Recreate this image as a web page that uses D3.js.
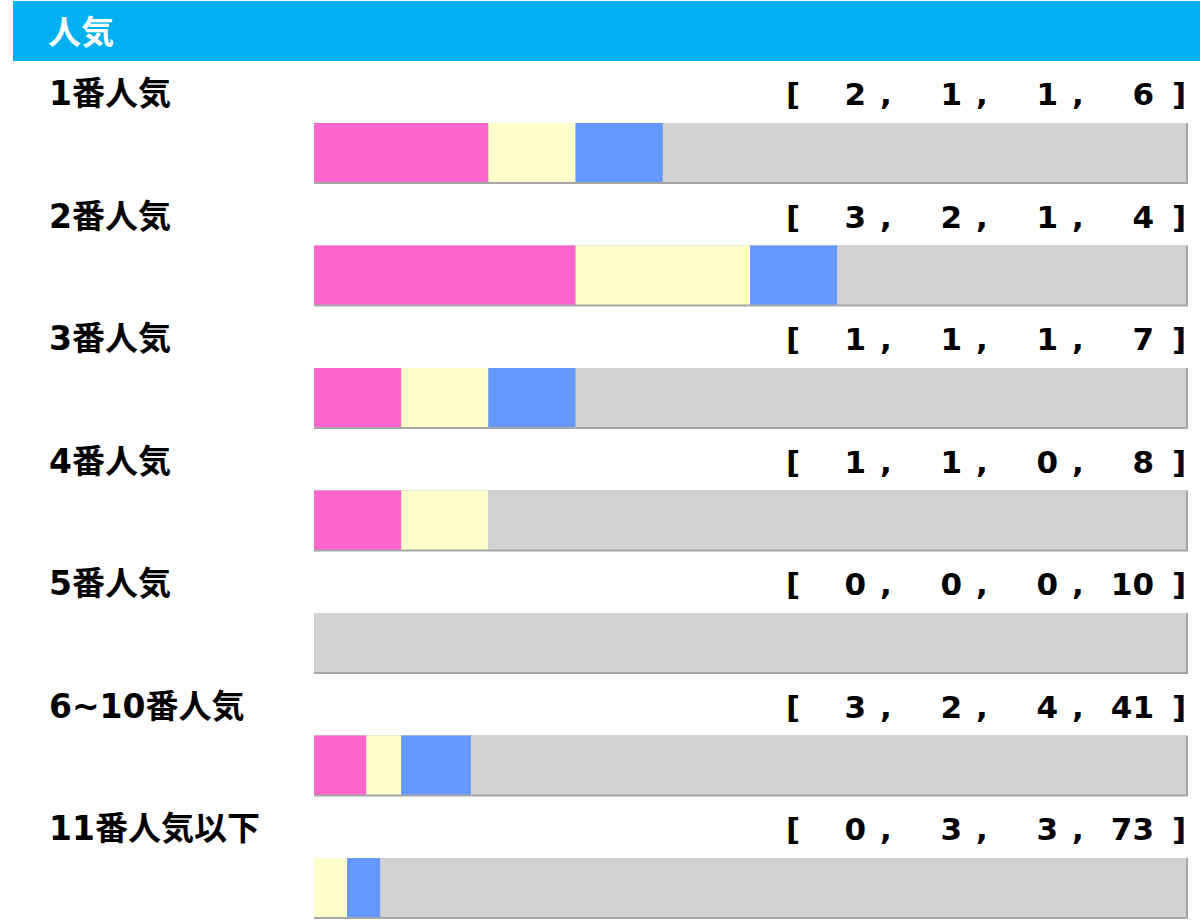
<!DOCTYPE html>
<html>
<head>
<meta charset="utf-8">
<script src="https://cdn.jsdelivr.net/npm/d3@7"></script>
<style>
  body { margin: 0; background: #fff; }
  svg text { font-family: "DejaVu Sans", "Noto Sans CJK JP", sans-serif; font-weight: bold; }
</style>
</head>
<body>
<div id="chart"></div>
<script>
// categories and counts [1着, 2着, 3着, 着外]
var labels = ['1番人気', '2番人気', '3番人気', '4番人気', '5番人気', '6~10番人気', '11番人気以下'];
var firsts = [2, 3, 1, 1, 0, 3, 0];
var seconds = [1, 2, 1, 1, 0, 2, 3];
var thirds = [1, 1, 1, 0, 0, 4, 3];
var others = [6, 4, 7, 8, 10, 41, 73];
var title = '人気';

var colors = ['#ff66cc', '#ffffcc', '#6699ff', '#d2d2d2'];
var keys = ['a', 'b', 'c', 'd'];

var width = 1200, height = 923;

var rows = labels.map(function(l, i) {
  return { label: l, a: firsts[i], b: seconds[i], c: thirds[i], d: others[i] };
});

var svg = d3.select('#chart').append('svg')
  .attr('width', width)
  .attr('height', height);

// header band
svg.append('rect')
  .attr('x', 13).attr('y', 1)
  .attr('width', width - 13).attr('height', 60)
  .style('fill', '#00b0f0');

svg.append('text')
  .attr('x', 48).attr('y', 44)
  .style('font-size', '33px')
  .style('fill', '#fff')
  .text(title);

// row position (top of bar)
var y = d3.scaleLinear()
  .domain([0, labels.length - 1])
  .range([123, 123 + (labels.length - 1) * 122.5]);

var barH = 59;
var x0 = 314, x1 = 1186;

var stacked = d3.stack().keys(keys)(rows);

var row = svg.selectAll('g.row')
  .data(rows)
  .enter().append('g')
  .attr('class', 'row')
  .attr('transform', function(d, i) { return 'translate(0,' + y(i) + ')'; });

row.append('text')
  .attr('x', 49).attr('y', -18)
  .style('font-size', '33px')
  .style('fill', '#000')
  .text(function(d) { return d.label; });

// shadow behind bar
row.append('rect')
  .attr('x', x0).attr('y', 0)
  .attr('width', x1 - x0 + 2).attr('height', barH + 2)
  .style('fill', '#a6a6a6');

row.each(function(d, i) {
  var total = d.a + d.b + d.c + d.d;
  var x = d3.scaleLinear().domain([0, total]).range([x0, x1]);
  var segs = stacked.map(function(s, k) { return { k: k, v: s[i] }; });
  d3.select(this).selectAll('rect.seg')
    .data(segs)
    .enter().append('rect')
    .attr('class', 'seg')
    .attr('x', function(s) { return x(s.v[0]); })
    .attr('y', 0)
    .attr('width', function(s) { return x(s.v[1]) - x(s.v[0]); })
    .attr('height', barH)
    .style('fill', function(s) { return colors[s.k]; });

  // bracket text [ a , b , c , d ]
  var slot = d3.scaleLinear().domain([0, 3]).range([866, 1154]);
  var g = d3.select(this).append('g').style('font-size', '31px').style('fill', '#000');
  g.append('text').attr('x', 793).attr('y', -18).attr('text-anchor', 'middle').text('[');
  g.append('text').attr('x', 1179).attr('y', -18).attr('text-anchor', 'middle').text(']');
  keys.forEach(function(k, j) {
    g.append('text')
      .attr('x', slot(j)).attr('y', -18)
      .attr('text-anchor', 'end')
      .text(d[k]);
    if (j < 3) {
      g.append('text')
        .attr('x', slot(j) + 20).attr('y', -18)
        .attr('text-anchor', 'middle')
        .text(',');
    }
  });
});
</script>
</body>
</html>
